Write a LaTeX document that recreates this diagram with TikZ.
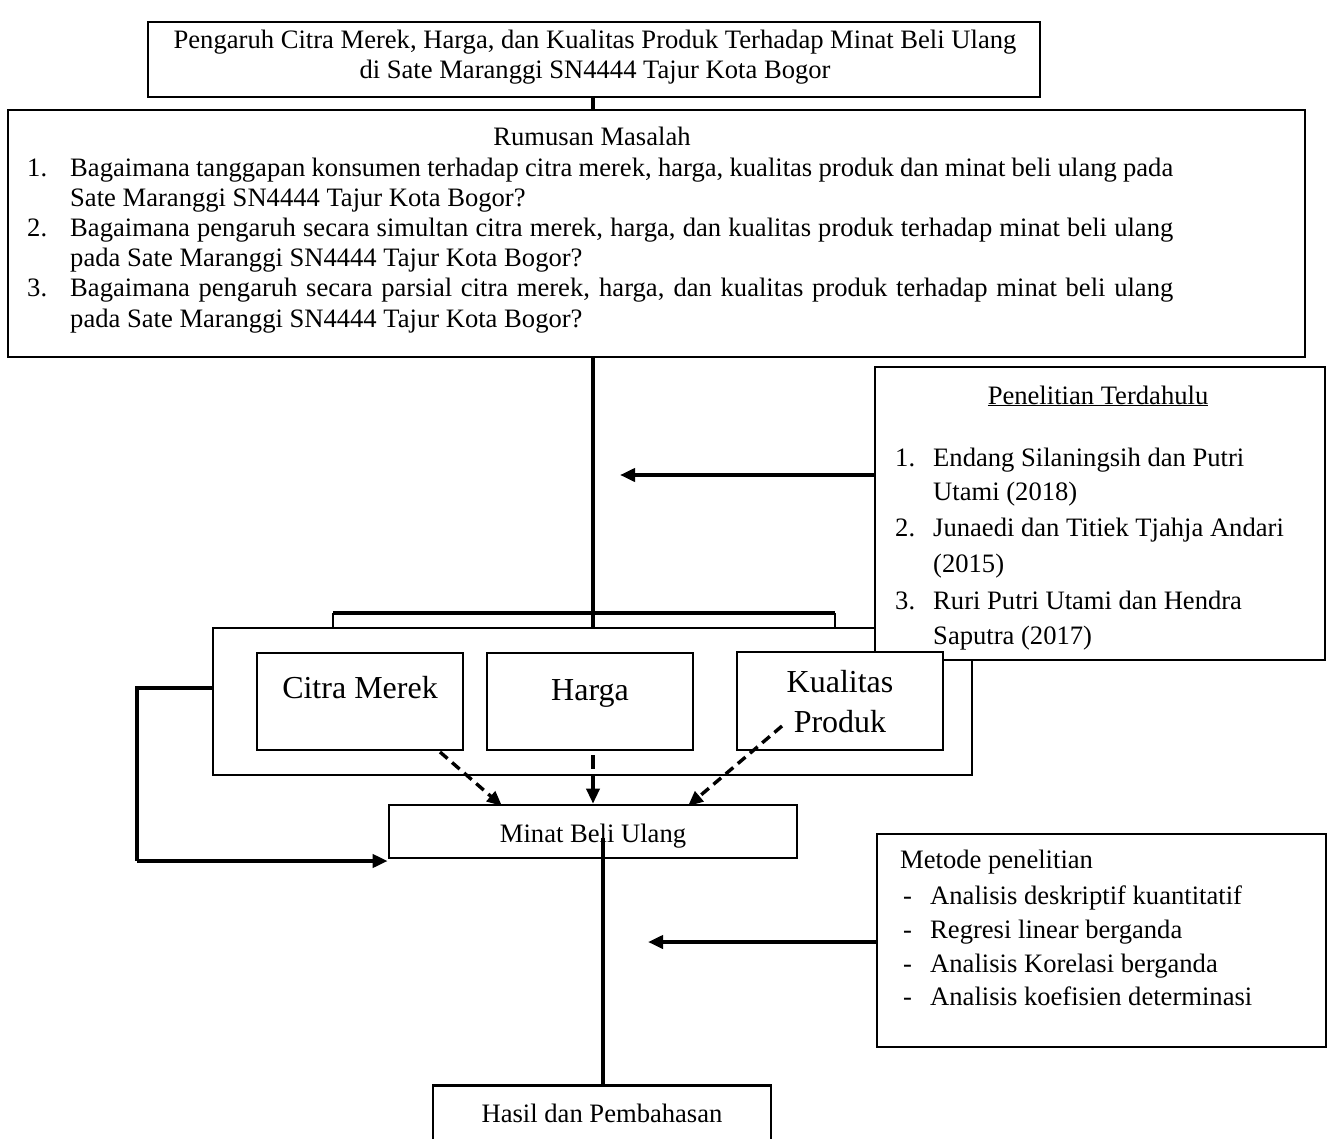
\documentclass[tikz,border=0pt]{standalone}
\usepackage{fontspec}
\setmainfont{Liberation Serif}
\usetikzlibrary{arrows.meta}
\tikzset{
  box/.style={draw, line width=2.6pt, fill=white, inner sep=0pt},
  thinbox/.style={draw, line width=2.2pt, fill=white, inner sep=0pt},
  txt/.style={inner sep=0pt, font=\fontsize{26.6}{30}\selectfont},
  bigtxt/.style={inner sep=0pt, font=\fontsize{32}{38}\selectfont},
  conn/.style={line width=4.2pt},
  thinconn/.style={line width=2.6pt},
  tip/.style={-{Triangle[length=15pt,width=13pt]}},
  dashconn/.style={line width=3.4pt, dash pattern=on 10pt off 6pt},
}
\newcommand{\jline}[1]{\makebox[1103pt][s]{#1}}
\begin{document}
\begin{tikzpicture}[x=1pt,y=-1pt]
\useasboundingbox (0,0) rectangle (1329,1139);
\fill[white] (0,0) rectangle (1329,1139);
\clip (0,0) rectangle (1329,1139);

% title
\node[box, minimum width=892pt, minimum height=75pt] (title) at (594,59.5) {};
\node[txt, anchor=base] (t1) at (595,49) {Pengaruh Citra Merek, Harga, dan Kualitas Produk Terhadap Minat Beli Ulang};
\node[txt, anchor=base] (t2) at (595,79) {di Sate Maranggi SN4444 Tajur Kota Bogor};

% rumusan masalah
\node[box, minimum width=1297pt, minimum height=247pt] (rum) at (656.5,233.5) {};
\node[txt, anchor=base] (r0) at (592,146) {Rumusan Masalah};
\node[txt, anchor=base west] (rn1) at (27,177) {1.};
\node[txt, anchor=base west] (r1) at (70,177) {\jline{Bagaimana tanggapan konsumen terhadap citra merek, harga, kualitas produk dan minat beli ulang pada}};
\node[txt, anchor=base west] (r1b) at (70,207) {Sate Maranggi SN4444 Tajur Kota Bogor?};
\node[txt, anchor=base west] (rn2) at (27,237) {2.};
\node[txt, anchor=base west] (r2) at (70,237) {\jline{Bagaimana pengaruh secara simultan citra merek, harga, dan kualitas produk terhadap minat beli ulang}};
\node[txt, anchor=base west] (r2b) at (70,267) {pada Sate Maranggi SN4444 Tajur Kota Bogor?};
\node[txt, anchor=base west] (rn3) at (27,297) {3.};
\node[txt, anchor=base west] (r3) at (70,297) {\jline{Bagaimana pengaruh secara parsial citra merek, harga, dan kualitas produk terhadap minat beli ulang}};
\node[txt, anchor=base west] (r3b) at (70,327) {pada Sate Maranggi SN4444 Tajur Kota Bogor?};

% big variable box
\node[box, minimum width=759pt, minimum height=147pt] (big) at (592.5,701.5) {};

% penelitian terdahulu
\node[thinbox, minimum width=450pt, minimum height=293pt] (pen) at (1100,513.5) {};
\node[txt, anchor=base] (p0) at (1098,404) {\underline{Penelitian Terdahulu}};
\node[txt, anchor=base west] (pn1) at (895,466) {1.};
\node[txt, anchor=base west] (p1) at (933,466) {Endang Silaningsih dan Putri};
\node[txt, anchor=base west] (p1b) at (933,500) {Utami (2018)};
\node[txt, anchor=base west] (pn2) at (895,536) {2.};
\node[txt, anchor=base west] (p2) at (933,536) {Junaedi dan Titiek Tjahja Andari};
\node[txt, anchor=base west] (p2b) at (933,572) {(2015)};
\node[txt, anchor=base west] (pn3) at (895,609) {3.};
\node[txt, anchor=base west] (p3) at (933,609) {Ruri Putri Utami dan Hendra};
\node[txt, anchor=base west] (p3b) at (933,644) {Saputra (2017)};

% variable boxes
\node[box, minimum width=206pt, minimum height=97pt] (citra) at (360,701.5) {};
\node[bigtxt, anchor=base] at (360,698) {Citra Merek};
\node[box, minimum width=206pt, minimum height=97pt] (harga) at (590,701.5) {};
\node[bigtxt, anchor=base] at (590,700) {Harga};
\node[box, minimum width=206pt, minimum height=98pt] (kual) at (840,701) {};
\node[bigtxt, anchor=base] at (840,692) {Kualitas};
\node[bigtxt, anchor=base] at (840,732) {Produk};

% minat
\node[box, minimum width=408pt, minimum height=53pt] (minat) at (593,831.5) {};
\node[txt, anchor=base] (mt) at (593,842) {Minat Beli Ulang};

% metode
\node[thinbox, minimum width=449pt, minimum height=213pt] (met) at (1101.5,940.5) {};
\node[txt, anchor=base west] (m0) at (900,868) {Metode penelitian};
\node[txt, anchor=base west] (md1) at (903,904) {-};
\node[txt, anchor=base west] (m1) at (930,904) {Analisis deskriptif kuantitatif};
\node[txt, anchor=base west] (md2) at (903,938) {-};
\node[txt, anchor=base west] (m2) at (930,938) {Regresi linear berganda};
\node[txt, anchor=base west] (md3) at (903,972) {-};
\node[txt, anchor=base west] (m3) at (930,972) {Analisis Korelasi berganda};
\node[txt, anchor=base west] (md4) at (903,1005) {-};
\node[txt, anchor=base west] (m4) at (930,1005) {Analisis koefisien determinasi};

% hasil
\node[box, minimum width=338pt, minimum height=120pt, anchor=north] (hasil) at (602,1084) {};
\node[txt, anchor=base] (h) at (602,1122) {Hasil dan Pembahasan};

% connectors
\draw[conn] (title.south -| 593,0) -- (rum.north -| 593,0);
\draw[conn] (rum.south -| 593,0) -- (big.north -| 593,0);
\coordinate (bl) at (333,613);
\coordinate (br) at (835,613);
\draw[conn] (bl) -- (br);
\draw[thinconn] (bl) -- (bl |- big.north);
\draw[thinconn] (br) -- (br |- big.north);
\coordinate (penend) at (620,475);
\draw[conn, tip] (pen.west |- penend) -- (penend);
\coordinate (metend) at (648,942);
\draw[conn, tip] (met.west |- metend) -- (metend);

\draw[conn] (big.west |- 0,688) -- (137,688) -- (137,861);
\draw[conn, tip] (137,861) -- (minat.west |- 0,861);

\draw[dashconn, tip] (440,752) -- (502,806);
\draw[dashconn, dash pattern=on 14pt off 6pt on 60pt, tip] (harga.south -| 593,0) ++(0,4) -- (minat.north -| 593,0);
\draw[dashconn, tip] (782,726) -- (688,806);

\coordinate (mstart) at (603,838);
\draw[line width=3.4pt] (mstart) -- (hasil.north -| mstart);
\end{tikzpicture}
\end{document}
